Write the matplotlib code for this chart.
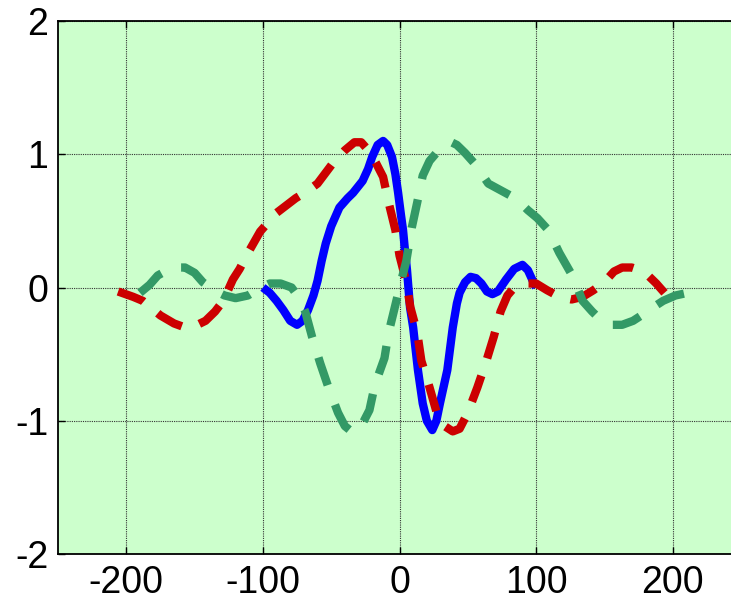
import matplotlib
matplotlib.use("Agg")
import matplotlib.pyplot as plt

# Solid wavelet (blue)
blue_x = [-100, -95, -90, -85, -80, -75, -71, -67, -63, -60, -57, -54, -50, -44, -38,
          -34, -27, -23, -20, -16, -12, -9, -5.5, -3, -1, 1, 2.6, 4, 5.5, 7.7, 10, 13.5,
          17, 20, 24, 27, 29.6, 35, 39, 42, 44, 48, 52, 56, 60, 64, 68, 72, 78, 84, 90,
          94, 98, 100]
blue_y = [0.0, -0.04, -0.10, -0.17, -0.25, -0.28, -0.25, -0.17, -0.06, 0.05, 0.20, 0.33,
          0.46, 0.60, 0.67, 0.71, 0.80, 0.89, 0.98, 1.07, 1.10, 1.07, 0.98, 0.85, 0.71,
          0.55, 0.43, 0.28, 0.13, -0.15, -0.30, -0.62, -0.87, -1.00, -1.07, -1.00, -0.87,
          -0.62, -0.30, -0.12, -0.04, 0.04, 0.08, 0.07, 0.03, -0.03, -0.05, -0.03, 0.06,
          0.14, 0.17, 0.13, 0.04, 0.0]

# Dashed wavelet (red)
red_x = [-206, -195, -188, -175, -165, -157, -150, -142, -135, -129, -122, -117, -112,
         -102, -90, -76, -68, -60, -49, -40, -33, -28, -22, -17, -12, -8, -3, 0, 5, 8,
         13, 16, 22, 27, 33, 39, 44, 50, 57, 63, 69, 74, 79, 84, 92, 100, 108, 117, 126,
         134, 142, 150, 157, 163, 170, 176, 182, 188, 194]
red_y = [-0.03, -0.07, -0.10, -0.21, -0.27, -0.30, -0.29, -0.25, -0.18, -0.10, 0.06,
         0.14, 0.24, 0.42, 0.56, 0.67, 0.72, 0.78, 0.93, 1.03, 1.09, 1.09, 1.02, 0.93,
         0.83, 0.64, 0.43, 0.24, 0.04, -0.15, -0.34, -0.55, -0.75, -0.93, -1.04, -1.08,
         -1.06, -0.94, -0.75, -0.57, -0.37, -0.18, -0.06, 0.0, 0.03, 0.03, -0.02, -0.07,
         -0.09, -0.07, -0.02, 0.04, 0.12, 0.15, 0.15, 0.13, 0.09, 0.03, -0.04]

# Dashed wavelet (green)
green_x = [-190, -183, -177, -170, -163, -157, -150, -144, -136, -128, -120, -111, -103,
           -95, -87, -79, -74, -69, -64, -58, -52, -45, -40, -34, -28, -22, -18, -11, -8,
           -3, 1, 5, 9, 13, 17, 22, 27, 33, 38, 42, 48, 55, 65, 74, 83, 90, 94, 101, 109,
           117, 122, 127, 134, 141, 148, 155, 163, 171, 180, 187, 193, 202, 211]
green_y = [-0.04, 0.02, 0.09, 0.13, 0.15, 0.15, 0.11, 0.04, -0.02, -0.06, -0.08, -0.06,
           -0.01, 0.03, 0.03, 0.0, -0.07, -0.18, -0.37, -0.57, -0.75, -0.94, -1.04, -1.09,
           -1.04, -0.92, -0.73, -0.53, -0.34, -0.13, 0.04, 0.20, 0.45, 0.64, 0.84, 0.95,
           1.01, 1.07, 1.09, 1.07, 1.01, 0.93, 0.78, 0.73, 0.68, 0.62, 0.58, 0.52, 0.43,
           0.26, 0.17, 0.08, -0.10, -0.18, -0.25, -0.28, -0.28, -0.25, -0.19, -0.14, -0.10,
           -0.06, -0.04]

x_ticks = [-200, -100, 0, 100, 200]
y_ticks = [-2, -1, 0, 1, 2]

plt.rcParams["font.family"] = ["Liberation Sans", "DejaVu Sans"]

fig = plt.figure(figsize=(7.31, 6.03), dpi=100)
ax = fig.add_axes([58 / 731, 49 / 603, 683 / 731, 533 / 603])
ax.set_facecolor("#ccffcc")

lw = 6.0
ax.plot(blue_x, blue_y, color="#0000ff", lw=lw, solid_capstyle="butt", zorder=3)
ax.plot(red_x, red_y, color="#cc0000", lw=lw, dashes=(3.3, 2.2),
        dash_capstyle="butt", zorder=4)
ax.plot(green_x, green_y, color="#339966", lw=lw, dashes=(3.5, 2.5),
        dash_capstyle="butt", zorder=5)

ax.set_xlim(-250, 250)
ax.set_ylim(-2, 2)
ax.set_xticks(x_ticks)
ax.set_yticks(y_ticks)
ax.set_xticklabels([str(v) for v in x_ticks])
ax.set_yticklabels([str(v) for v in y_ticks])

ax.grid(True, color="#333333", linestyle=(0, (1, 1)), linewidth=0.8)
ax.set_axisbelow(True)
ax.tick_params(direction="in", length=5, width=1, top=True, right=True,
               labelsize=27, colors="black")
ax.tick_params(axis="x", pad=8)
ax.tick_params(axis="y", pad=7)
for s in ax.spines.values():
    s.set_linewidth(1.3)
    s.set_color("black")

fig.savefig("out.png", dpi=100)
